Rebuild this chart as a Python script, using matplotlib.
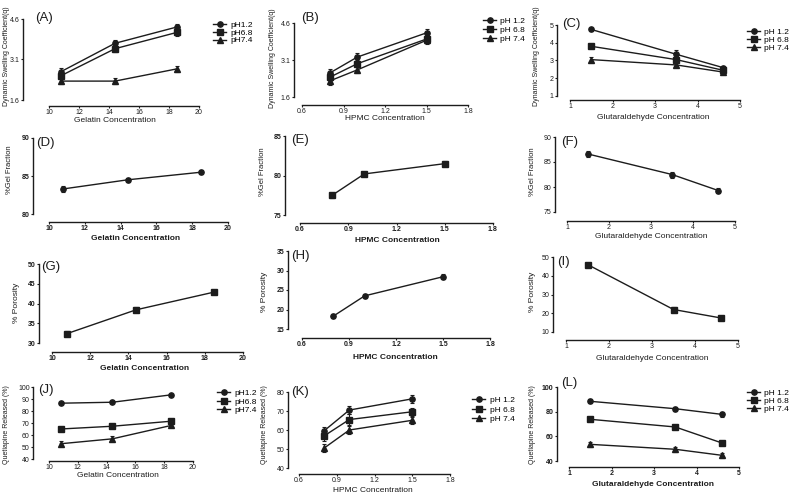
import matplotlib.pyplot as plt
from matplotlib.lines import Line2D

plt.rcParams['font.family'] = ['Liberation Sans', 'DejaVu Sans']

W, H = 800, 498

# concentrations on the x axes
gel_x = [10.8, 14.4, 18.5]
hpmc_x = [0.8, 1.0, 1.5]
glu_x = [1.5, 3.5, 4.6]
ph_labels = ['pH1.2', 'pH6.8', 'pH7.4']
ph_labels_sp = ['pH 1.2', 'pH 6.8', 'pH 7.4']

# dynamic swelling coefficient (q)
a_vals = [[2.65, 3.7, 4.3], [2.5, 3.5, 4.1], [2.3, 2.3, 2.75]]
a_err = [[0.12, 0.12, 0.1], [0.12, 0.12, 0.12], [0.1, 0.12, 0.12]]
b_vals = [[2.57, 3.22, 4.2], [2.4, 2.95, 3.95], [2.25, 2.7, 3.9]]
b_err = [[0.15, 0.15, 0.15], [0.15, 0.15, 0.15], [0.15, 0.12, 0.15]]
c_vals = [[4.75, 3.35, 2.6], [3.8, 3.05, 2.45], [3.05, 2.75, 2.35]]
c_err = [[0.08, 0.25, 0.1], [0.1, 0.15, 0.1], [0.12, 0.1, 0.1]]

# % gel fraction
d_vals = [83.3, 84.5, 85.5]
d_err = [0.35, 0.3, 0.3]
e_vals = [77.5, 80.2, 81.5]
e_err = [0.3, 0.25, 0.3]
f_vals = [86.6, 82.5, 79.3]
f_err = [0.6, 0.6, 0.5]

# % porosity
g_vals = [32.4, 38.4, 42.9]
g_err = [0.6, 0.6, 0.5]
h_vals = [18.3, 23.5, 28.4]
h_err = [0.6, 0.6, 0.6]
i_vals = [46.0, 22.0, 17.5]
i_err = [1.0, 1.2, 1.2]

# quetiapine released (%)
j_vals = [[86.5, 87.3, 93.5], [65.0, 67.3, 71.5], [52.7, 56.8, 68.0]]
j_err = [[1.0, 1.0, 1.0], [1.5, 1.5, 1.5], [2.0, 2.0, 1.5]]
k_vals = [[59.6, 70.5, 76.4], [56.9, 65.5, 69.6], [50.5, 60.0, 65.1]]
k_err = [[2.0, 2.0, 2.0], [2.5, 3.0, 2.0], [2.0, 2.0, 2.0]]
l_vals = [[88.4, 82.4, 77.8], [73.8, 67.6, 54.6], [53.5, 49.5, 44.6]]
l_err = [[1.5, 1.5, 2.0], [1.5, 1.5, 1.5], [2.0, 2.0, 2.0]]

gel_ticks = [10, 12, 14, 16, 18, 20]
hpmc_ticks = [0.6, 0.9, 1.2, 1.5, 1.8]
glu_ticks = [1, 2, 3, 4, 5]

markers = ['o', 's', '^']
col = '#1c1c1c'

fig = plt.figure(figsize=(8, 4.98), dpi=100)


def fx(px):
    return px / W


def fy(py):
    return 1 - py / H


def panel(yax, x0, x1, ytop, ybot, xax, xlim, ylim, xticks, yticks, fmt='{:g}', bold=False):
    ax = fig.add_axes([fx(x0), fy(ybot), (x1 - x0) / W, (ybot - ytop) / H])
    ax.set_xlim(xlim)
    ax.set_ylim(ylim)
    ax.patch.set_visible(False)
    ax.spines[['top', 'right']].set_visible(False)
    ax.spines['left'].set_position(('outward', (x0 - yax) * 0.72))
    ax.spines['bottom'].set_position(('outward', (xax - ybot) * 0.72))
    ax.spines['left'].set_bounds(*ylim)
    ax.spines['bottom'].set_bounds(*xlim)
    for s in ['left', 'bottom']:
        ax.spines[s].set_linewidth(1.0)
        ax.spines[s].set_color(col)
    ax.set_xticks(xticks)
    ax.set_xticklabels([fmt.format(t) if isinstance(t, float) else str(t) for t in xticks])
    ax.set_yticks(yticks)
    ax.set_yticklabels([fmt.format(t) if isinstance(t, float) else str(t) for t in yticks])
    ax.tick_params(labelsize=5, length=1.6, width=0.8, pad=0.8, colors=col)
    if bold:
        for t in ax.get_xticklabels() + ax.get_yticklabels():
            t.set_fontweight('bold')
    return ax


def curve(ax, x, y, err, m):
    ax.errorbar(x, y, yerr=err, color=col, marker=m, ms=3.8, lw=1.0,
                capsize=1.6, elinewidth=0.8, capthick=0.8)


def labels(tag, tx, ty, xl, xlx, xly, yl, ylx, yly, ysize=5.5, bold=False):
    fig.text(fx(tx), fy(ty), tag, fontsize=9.5, ha='left', va='top', color=col)
    fig.text(fx(xlx), fy(xly), xl, fontsize=6, ha='center', va='center', color=col,
             fontweight='bold' if bold else 'normal')
    fig.text(fx(ylx), fy(yly), yl, fontsize=ysize, ha='center', va='center',
             rotation=90, color=col)


def legend(names, lx, ly, sp):
    hs = [Line2D([], [], color=col, marker=m, ms=3.8, lw=1.0) for m in markers]
    fs = 6
    ls = max(0.0, (sp * 0.72 - 1.15 * fs) / fs)
    fig.legend(hs, names, loc='upper left', bbox_to_anchor=(fx(lx), fy(ly)),
               frameon=False, fontsize=fs, handlelength=1.6, handletextpad=0.5,
               labelspacing=ls, borderpad=0, borderaxespad=0)


swell_lab = 'Dynamic Swelling Coefficient(q)'
gel_lab = 'Gelatin Concentration'
hpmc_lab = 'HPMC Concentration'
glu_lab = 'Glutaraldehyde Concentration'
rel_lab = 'Quetiapine Released (%)'

# row 1: swelling
ax = panel(23, 49, 199, 19, 100, 106, (10, 20), (1.6, 4.6), gel_ticks, [1.6, 3.1, 4.6], '{:.1f}')
for v, e, m in zip(a_vals, a_err, markers):
    curve(ax, gel_x, v, e, m)
labels('(A)', 35, 12, gel_lab, 115, 120, swell_lab, 7, 56, 5)
legend(ph_labels, 213, 21, 8.5)

ax = panel(294, 302, 468, 23, 97, 105, (0.6, 1.8), (1.6, 4.6), hpmc_ticks, [1.6, 3.1, 4.6], '{:.1f}')
for v, e, m in zip(b_vals, b_err, markers):
    curve(ax, hpmc_x, v, e, m)
labels('(B)', 301, 12, hpmc_lab, 385, 119, swell_lab, 273, 58, 5)
legend(ph_labels_sp, 483, 17, 11)

ax = panel(557, 570, 740, 25, 96, 100, (1, 5), (1, 5), glu_ticks, [1, 2, 3, 4, 5])
for v, e, m in zip(c_vals, c_err, markers):
    curve(ax, glu_x, v, e, m)
labels('(C)', 562, 18, glu_lab, 653, 117, swell_lab, 537, 56, 5)
legend(ph_labels_sp, 747, 28, 10)

# row 2: gel fraction
ax = panel(33, 49, 228, 138, 214, 222, (10, 20), (80, 90), gel_ticks, [80, 85, 90], bold=True)
curve(ax, gel_x, d_vals, d_err, 'o')
labels('(D)', 36, 137, gel_lab, 136, 238, '%Gel Fraction', 10, 170, 5.5, bold=True)

ax = panel(285, 300, 493, 136, 215, 223, (0.6, 1.8), (75, 85), hpmc_ticks, [75, 80, 85], '{:.1f}', bold=True)
curve(ax, hpmc_x, e_vals, e_err, 's')
labels('(E)', 291, 134, hpmc_lab, 397, 240, '%Gel Fraction', 263, 172, 5.5, bold=True)

ax = panel(555, 567, 735, 137, 212, 221, (1, 5), (75, 90), glu_ticks, [75, 80, 85, 90])
curve(ax, glu_x, f_vals, f_err, 'o')
labels('(F)', 561, 136, glu_lab, 651, 237, '%Gel Fraction', 533, 172, 5.5)

# row 3: porosity
ax = panel(39, 52, 243, 264, 343, 352, (10, 20), (30, 50), gel_ticks, [30, 35, 40, 45, 50], bold=True)
curve(ax, gel_x, g_vals, g_err, 's')
labels('(G)', 41, 261, gel_lab, 145, 369, '% Porosity', 17, 303, 6, bold=True)

ax = panel(288, 302, 490, 251, 329, 338, (0.6, 1.8), (15, 35), hpmc_ticks, [15, 20, 25, 30, 35], '{:.1f}', bold=True)
curve(ax, hpmc_x, h_vals, h_err, 'o')
labels('(H)', 291, 250, hpmc_lab, 395, 357, '% Porosity', 264, 292, 6, bold=True)

ax = panel(553, 566, 738, 257, 332, 340, (1, 5), (10, 50), glu_ticks, [10, 20, 30, 40, 50])
curve(ax, glu_x, i_vals, i_err, 's')
labels('(I)', 557, 256, glu_lab, 652, 358, '% Porosity', 533, 292, 6)

# row 4: drug release
ax = panel(33, 49, 193, 387, 459, 461, (10, 20), (40, 100), gel_ticks, [40, 50, 60, 70, 80, 90, 100])
for v, e, m in zip(j_vals, j_err, markers):
    curve(ax, gel_x, v, e, m)
labels('(J)', 38, 384, gel_lab, 118, 475, rel_lab, 7, 425, 5)
legend(ph_labels, 217, 389, 10.5)

ax = panel(288, 299, 450, 392, 468, 474, (0.6, 1.8), (40, 80), hpmc_ticks, [40, 50, 60, 70, 80], '{:.1f}')
for v, e, m in zip(k_vals, k_err, markers):
    curve(ax, hpmc_x, v, e, m)
labels('(K)', 291, 386, hpmc_lab, 373, 490, rel_lab, 265, 425, 5)
legend(ph_labels_sp, 472, 396, 11.5)

ax = panel(557, 569, 739, 387, 461, 467, (1, 5), (40, 100), glu_ticks, [40, 60, 80, 100], bold=True)
for v, e, m in zip(l_vals, l_err, markers):
    curve(ax, glu_x, v, e, m)
labels('(L)', 561, 377, glu_lab, 653, 484, rel_lab, 533, 425, 5, bold=True)
legend(ph_labels_sp, 747, 389, 8.5)

fig.savefig('out.png', dpi=100)
